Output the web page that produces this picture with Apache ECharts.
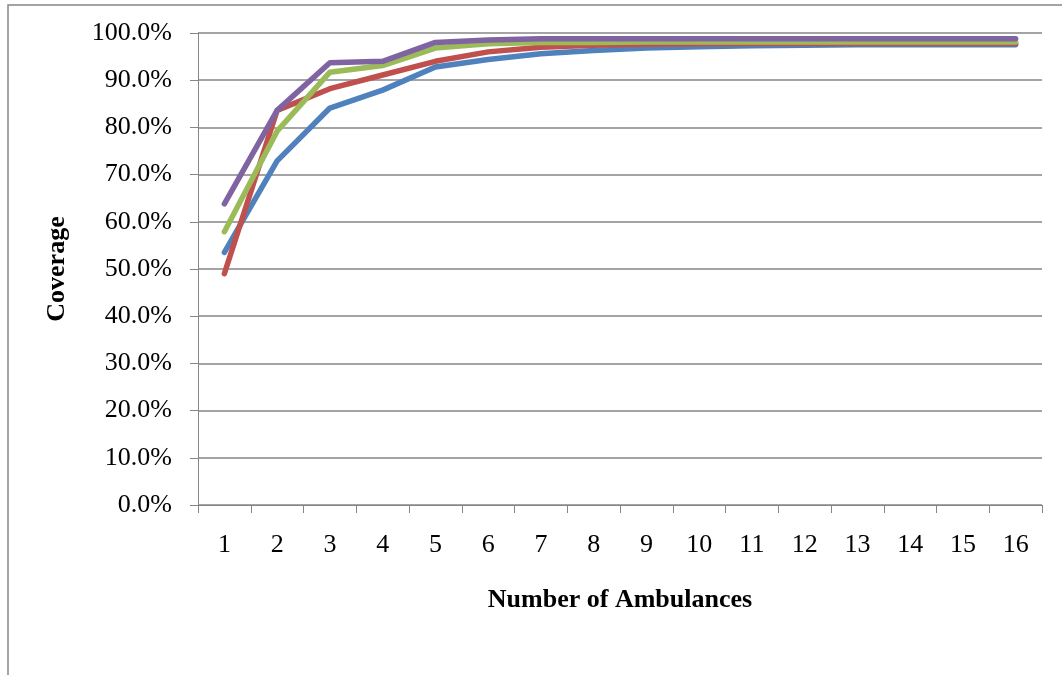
<!DOCTYPE html>
<html>
<head>
<meta charset="utf-8">
<script src="https://cdn.jsdelivr.net/npm/echarts@6/dist/echarts.min.js"></script>
<style>
  html, body { margin: 0; padding: 0; background: #fff; }
  #chart { width: 1062px; height: 675px; }
</style>
</head>
<body>
<div id="chart"></div>
<script>
// Coverage (%) by number of ambulances, four scenarios
const categories = ['1','2','3','4','5','6','7','8','9','10','11','12','13','14','15','16'];
const seriesBlue   = [53.5, 72.9, 84.1, 87.9, 92.8, 94.4, 95.6, 96.3, 96.8, 97.1, 97.3, 97.4, 97.5, 97.5, 97.5, 97.5];
const seriesRed    = [49.0, 83.6, 88.2, 91.1, 94.0, 96.0, 97.0, 97.4, 97.6, 97.7, 97.8, 97.8, 97.8, 97.8, 97.8, 97.8];
const seriesGreen  = [57.9, 79.2, 91.7, 93.1, 96.8, 97.7, 98.0, 98.0, 98.1, 98.1, 98.1, 98.1, 98.1, 98.1, 98.1, 98.1];
const seriesPurple = [63.8, 83.6, 93.7, 94.0, 98.0, 98.5, 98.8, 98.8, 98.8, 98.8, 98.8, 98.8, 98.8, 98.8, 98.8, 98.8];
const yTicks = { min: 0, max: 100, interval: 10 };

const font = '"Liberation Serif", "Times New Roman", serif';
const axisGrey = '#868686';

function lineSeries(data, color) {
  return {
    type: 'line',
    data: data,
    symbol: 'none',
    lineStyle: { color: color, width: 5.5, cap: 'round', join: 'round' },
    itemStyle: { color: color },
    animation: false
  };
}

const chart = echarts.init(document.getElementById('chart'), null, { renderer: 'canvas' });
chart.setOption({
  backgroundColor: '#ffffff',
  animation: false,
  grid: { left: 198, right: 20, top: 33, bottom: 170, containLabel: false },
  xAxis: {
    type: 'category',
    data: categories,
    boundaryGap: true,
    name: 'Number of Ambulances',
    nameLocation: 'middle',
    nameGap: 82,
    nameTextStyle: { fontFamily: font, fontSize: 26, fontWeight: 'bold', color: '#000' },
    axisLine: { lineStyle: { color: axisGrey, width: 1 } },
    axisTick: { show: true, alignWithLabel: false, length: 8, lineStyle: { color: axisGrey } },
    axisLabel: { fontFamily: font, fontSize: 26, color: '#000', margin: 27, interval: 0 },
    splitLine: { show: false }
  },
  yAxis: {
    type: 'value',
    min: yTicks.min,
    max: yTicks.max,
    interval: yTicks.interval,
    name: 'Coverage',
    nameLocation: 'middle',
    nameGap: 128,
    nameRotate: 90,
    nameTextStyle: { fontFamily: font, fontSize: 26, fontWeight: 'bold', color: '#000' },
    axisLine: { show: true, lineStyle: { color: axisGrey, width: 1 } },
    axisTick: { show: true, length: 8, lineStyle: { color: axisGrey } },
    axisLabel: {
      fontFamily: font, fontSize: 26, color: '#000', margin: 26,
      formatter: v => v.toFixed(1) + '%'
    },
    splitLine: { show: true, lineStyle: { color: axisGrey, width: 1.5 } }
  },
  series: [
    lineSeries(seriesBlue, '#4F81BD'),
    lineSeries(seriesRed, '#C0504D'),
    lineSeries(seriesGreen, '#9BBB59'),
    lineSeries(seriesPurple, '#8064A2')
  ],
  graphic: [{
    type: 'polyline',
    silent: true,
    shape: { points: [[8, 675], [8, 5], [1062, 5]] },
    style: { stroke: axisGrey, lineWidth: 1.5, fill: null }
  }]
});
</script>
</body>
</html>
